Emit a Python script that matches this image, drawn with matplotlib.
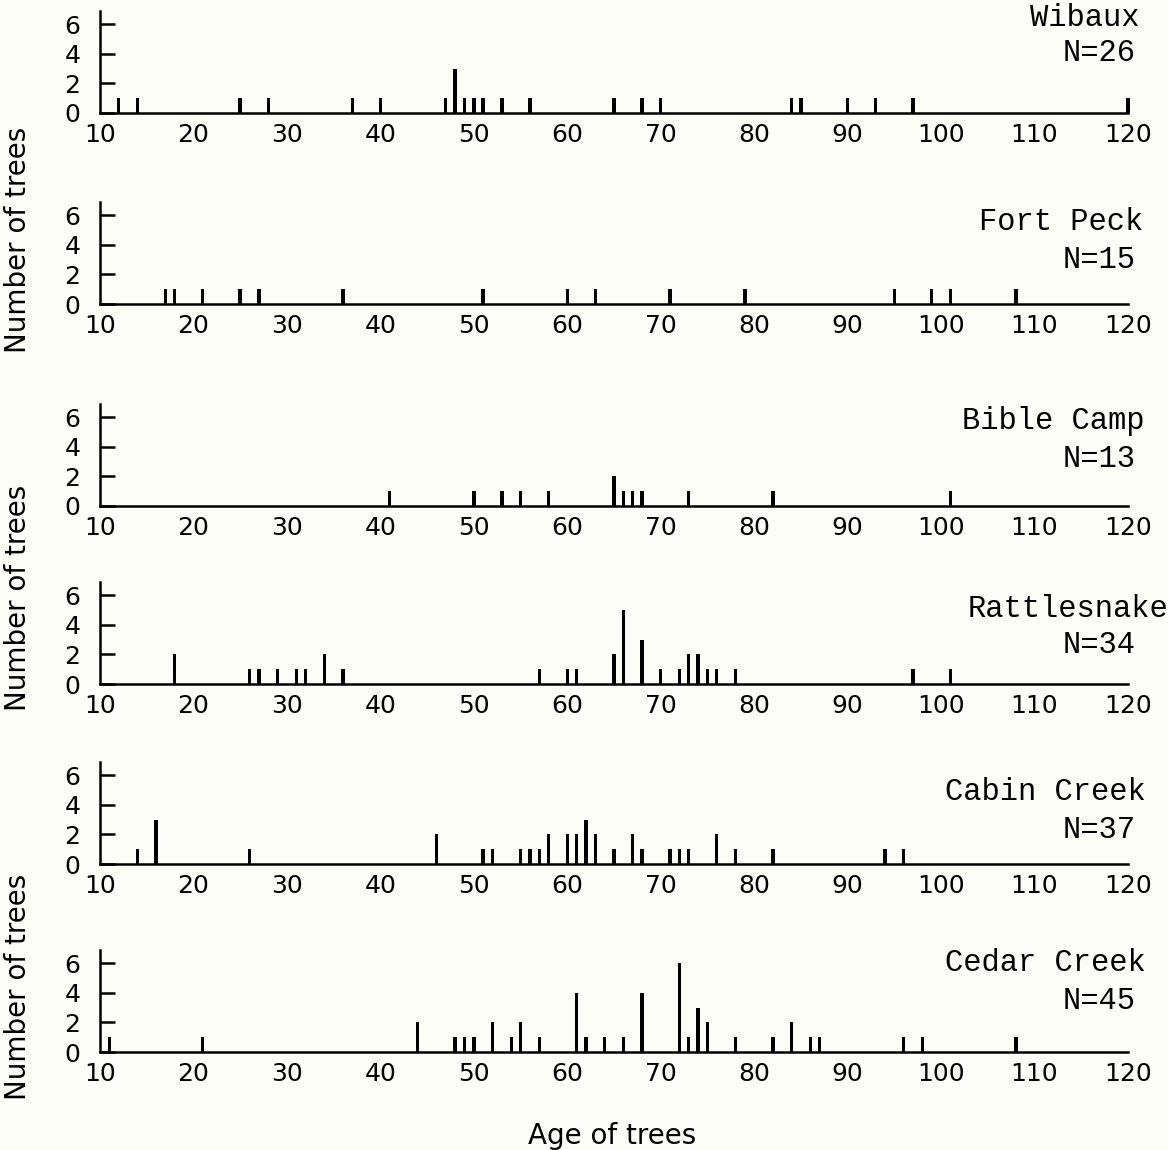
import matplotlib
matplotlib.use('Agg')
import matplotlib.pyplot as plt

# site names and sample sizes
sites = ['Wibaux', 'Fort Peck', 'Bible Camp', 'Rattlesnake', 'Cabin Creek', 'Cedar Creek']
n_trees = [26, 15, 13, 34, 37, 45]

# tree ages (years) and number of trees at each age
wibaux_age = [12, 14, 25, 28, 37, 40, 47, 48, 49, 50, 51, 53, 56, 65, 68, 70, 84, 85, 90, 93, 97, 120]
wibaux_cnt = [1, 1, 1, 1, 1, 1, 1, 3, 1, 1, 1, 1, 1, 1, 1, 1, 1, 1, 1, 1, 1, 1]

fortpeck_age = [17, 18, 21, 25, 27, 36, 51, 60, 63, 71, 79, 95, 99, 101, 108]
fortpeck_cnt = [1, 1, 1, 1, 1, 1, 1, 1, 1, 1, 1, 1, 1, 1, 1]

biblecamp_age = [41, 50, 53, 55, 58, 65, 66, 67, 68, 73, 82, 101]
biblecamp_cnt = [1, 1, 1, 1, 1, 2, 1, 1, 1, 1, 1, 1]

rattle_age = [18, 26, 27, 29, 31, 32, 34, 36, 57, 60, 61, 65, 66, 68, 70, 72, 73, 74, 75, 76, 78, 97, 101]
rattle_cnt = [2, 1, 1, 1, 1, 1, 2, 1, 1, 1, 1, 2, 5, 3, 1, 1, 2, 2, 1, 1, 1, 1, 1]

cabin_age = [14, 16, 26, 46, 51, 52, 55, 56, 57, 58, 60, 61, 62, 63, 65, 67, 68, 71, 72, 73, 76, 78, 82, 94, 96]
cabin_cnt = [1, 3, 1, 2, 1, 1, 1, 1, 1, 2, 2, 2, 3, 2, 1, 2, 1, 1, 1, 1, 2, 1, 1, 1, 1]

cedar_age = [11, 21, 44, 48, 49, 50, 52, 54, 55, 57, 61, 62, 64, 66, 68, 72, 73, 74, 75, 78, 82, 84, 86, 87, 96, 98, 108]
cedar_cnt = [1, 1, 2, 1, 1, 1, 2, 1, 2, 1, 4, 1, 1, 1, 4, 6, 1, 3, 2, 1, 1, 2, 1, 1, 1, 1, 1]

ages = [wibaux_age, fortpeck_age, biblecamp_age, rattle_age, cabin_age, cedar_age]
counts = [wibaux_cnt, fortpeck_cnt, biblecamp_cnt, rattle_cnt, cabin_cnt, cedar_cnt]

x_ticks = [10, 20, 30, 40, 50, 60, 70, 80, 90, 100, 110, 120]
y_ticks = [0, 2, 4, 6]

# layout in pixels (from top of the 1168x1150 figure)
W, H = 1168.0, 1150.0
baseline_px = [113, 304, 506, 684, 864, 1052]
name_px = [18, 222, 421, 609, 792, 963]
nlab_px = [53, 260, 459, 645, 830, 1001]
name_right_px = [1140, 1143, 1144, 1168, 1146, 1146]
unit_px = 14.8
ytop = 6.9

bg = '#fdfdf8'
fig = plt.figure(figsize=(W / 100, H / 100), dpi=100, facecolor=bg)

for i in range(6):
    bottom = 1 - baseline_px[i] / H
    ax = fig.add_axes([100 / W, bottom, 1028 / W, ytop * unit_px / H])
    ax.set_facecolor('none')
    ax.bar(ages[i], counts[i], width=0.36, color='black', clip_on=False)
    ax.set_xlim(10, 120)
    ax.set_ylim(0, ytop)
    ax.set_xticks(x_ticks)
    ax.set_yticks(y_ticks)
    ax.spines['top'].set_visible(False)
    ax.spines['right'].set_visible(False)
    ax.spines['left'].set_linewidth(1.8)
    ax.spines['bottom'].set_linewidth(1.8)
    ax.tick_params(axis='x', length=0, pad=7, labelsize=18)
    ax.tick_params(axis='y', direction='in', length=11, width=1.8, pad=14, labelsize=18)
    fig.text(name_right_px[i] / W, 1 - name_px[i] / H, sites[i], ha='right', va='center',
             family='Liberation Mono', fontsize=22)
    fig.text(1136 / W, 1 - nlab_px[i] / H, 'N=' + str(n_trees[i]), ha='right', va='center',
             family='Liberation Mono', fontsize=22)

# shared axis labels
for yc in [240, 598, 987]:
    fig.text(18 / W, 1 - yc / H, 'Number of trees', rotation=90, ha='center', va='center', fontsize=20)
fig.text(612 / W, 1 - 1136 / H, 'Age of trees', ha='center', va='center', fontsize=20)

fig.savefig('out.png', dpi=100, facecolor=bg)
